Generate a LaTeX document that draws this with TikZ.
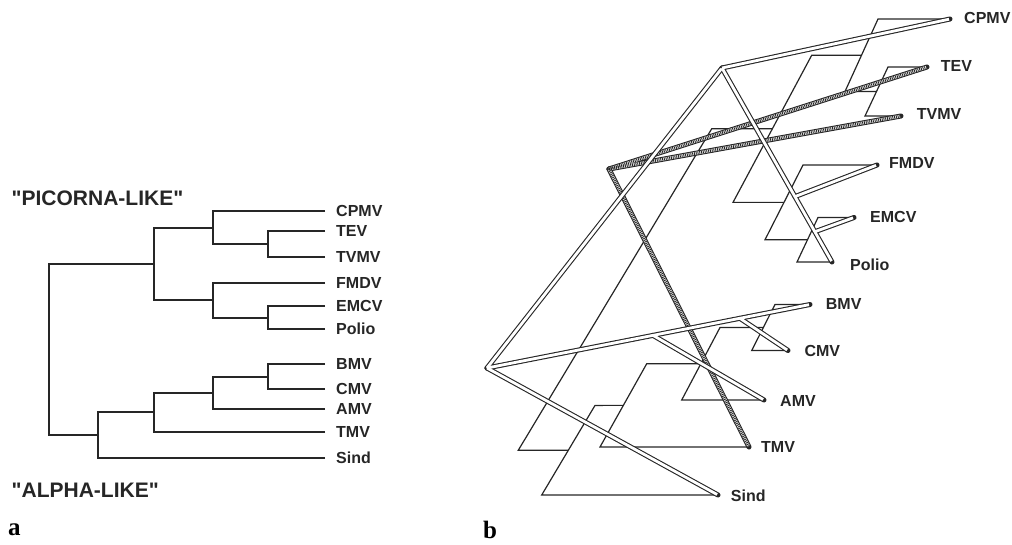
\documentclass[tikz,border=0pt]{standalone}
\usepackage{fontspec}
\setmainfont{Liberation Serif}
\newfontfamily\labfont{Liberation Sans}
\usetikzlibrary{calc}

\tikzset{
  den/.style={draw=black!85, line width=2pt, line join=miter},
  thin/.style={draw=black!85, line width=1.2pt, line join=miter},
  rodout/.style={draw=black!85, line width=5pt, line cap=round},
  rodin/.style={draw=white, line width=2.8pt, shorten >=1pt},
  hatchin/.style={draw=black!85, line width=2.8pt, shorten >=1pt,
    dash pattern=on 0.9pt off 0.9pt},
  lab/.style={font=\labfont\bfseries\fontsize{16}{16}\selectfont,
    inner sep=0pt, anchor=west, text=black!85},
  grp/.style={font=\labfont\bfseries\fontsize{21}{21}\selectfont,
    inner sep=0pt, anchor=west, text=black!85},
  panel/.style={font=\bfseries\fontsize{25}{25}\selectfont,
    inner sep=0pt, anchor=base west}
}

\begin{document}
\begin{tikzpicture}[x=1pt, y=-1pt]
\useasboundingbox (0,0) rectangle (1012,544);

% ---------------- panel a: rooted dendrogram ----------------
\coordinate (lCPMV)  at (325,211);
\coordinate (lTEV)   at (325,231);
\coordinate (lTVMV)  at (325,257);
\coordinate (lFMDV)  at (325,283);
\coordinate (lEMCV)  at (325,306);
\coordinate (lPolio) at (325,329);
\coordinate (lBMV)   at (325,364);
\coordinate (lCMV)   at (325,389);
\coordinate (lAMV)   at (325,409);
\coordinate (lTMV)   at (325,432);
\coordinate (lSind)  at (325,458);

\coordinate (lTT)   at (268,244);
\coordinate (lCT)   at (213,228);
\coordinate (lEP)   at (268,318);
\coordinate (lFE)   at (213,300);
\coordinate (lPic)  at (154,264);
\coordinate (lBC)   at (268,377);
\coordinate (lABC)  at (213,393);
\coordinate (lTA)   at (154,412);
\coordinate (lAlp)  at (98,435);
\coordinate (lRoot) at (49,350);

\foreach \c/\p in {lTEV/lTT, lTVMV/lTT, lCPMV/lCT, lTT/lCT,
                   lEMCV/lEP, lPolio/lEP, lFMDV/lFE, lEP/lFE,
                   lCT/lPic, lFE/lPic,
                   lBMV/lBC, lCMV/lBC, lBC/lABC, lAMV/lABC,
                   lABC/lTA, lTMV/lTA, lTA/lAlp, lSind/lAlp,
                   lPic/lRoot, lAlp/lRoot}
  \draw[den] (\c) -| (\p);

\node[lab] (aCPMV)  at (336,211) {CPMV};
\node[lab] (aTEV)   at (336,231) {TEV};
\node[lab] (aTVMV)  at (336,257) {TVMV};
\node[lab] (aFMDV)  at (336,283) {FMDV};
\node[lab] (aEMCV)  at (336,306) {EMCV};
\node[lab] (aPolio) at (336,329) {Polio};
\node[lab] (aBMV)   at (336,364) {BMV};
\node[lab] (aCMV)   at (336,389) {CMV};
\node[lab] (aAMV)   at (336,409) {AMV};
\node[lab] (aTMV)   at (336,432) {TMV};
\node[lab] (aSind)  at (336,458) {Sind};

\node[grp] (picorna) at (11.5,198.3) {"PICORNA-LIKE"};
\node[grp] (alpha)   at (11.5,490)   {"ALPHA-LIKE"};
\node[panel] (pa) at (8,535) {a};

% ---------------- panel b: tree in oblique view ----------------
% branch tips
\coordinate (rCPMV)  at (950,19);
\coordinate (rTEV)   at (927,67);
\coordinate (rTVMV)  at (901,116);
\coordinate (rFMDV)  at (877,165);
\coordinate (rEMCV)  at (854,217.5);
\coordinate (rPolio) at (832,262);
\coordinate (rBMV)   at (810,304.5);
\coordinate (rCMV)   at (788,350.5);
\coordinate (rAMV)   at (764,400);
\coordinate (rTMV)   at (749,447);
\coordinate (rSind)  at (718,495);

% sheared dendrogram bars (top end, bottom end) and their midpoints
\coordinate (tTTa)   at (888,67);     \coordinate (tTTb)   at (865,116);
\coordinate (tCTa)   at (878,19);     \coordinate (tCTb)   at (845,91.5);
\coordinate (tEPa)   at (818,217.5);  \coordinate (tEPb)   at (797,262);
\coordinate (tFEa)   at (803,165);    \coordinate (tFEb)   at (765,239.75);
\coordinate (tPica)  at (811.7,55.25);\coordinate (tPicb)  at (733,202.375);
\coordinate (tBCa)   at (775,304.5);  \coordinate (tBCb)   at (751.7,350.5);
\coordinate (tABCa)  at (720,327.5);  \coordinate (tABCb)  at (681.7,400);
\coordinate (tTAa)   at (646.7,363.75);\coordinate (tTAb)  at (600,447);
\coordinate (tAlpa)  at (595,405.4);  \coordinate (tAlpb)  at (541.7,495);
\coordinate (tRoota) at (711.7,128.8);\coordinate (tRootb) at (518.3,450.2);

\foreach \n in {TT,CT,EP,FE,Pic,BC,ABC,TA,Alp}
  \coordinate (m\n) at ($(t\n a)!0.5!(t\n b)$);

\draw[thin] (rTEV) -- (tTTa) -- (tTTb) -- (rTVMV);
\draw[thin] (rCPMV) -- (tCTa) -- (tCTb) -- (mTT);
\draw[thin] (rEMCV) -- (tEPa) -- (tEPb) -- (rPolio);
\draw[thin] (rFMDV) -- (tFEa) -- (tFEb) -- (mEP);
\draw[thin] (mCT) -- (tPica) -- (tPicb) -- (mFE);
\draw[thin] (rBMV) -- (tBCa) -- (tBCb) -- (rCMV);
\draw[thin] (mBC) -- (tABCa) -- (tABCb) -- (rAMV);
\draw[thin] (mABC) -- (tTAa) -- (tTAb) -- (rTMV);
\draw[thin] (mTA) -- (tAlpa) -- (tAlpb) -- (rSind);
\draw[thin] (mPic) -- (tRoota) -- (tRootb) -- (mAlp);

% rods
\coordinate (R) at (487,368);
\coordinate (P) at (722,68);
\coordinate (H) at (609,169);
\coordinate (F0) at ($(P)!0.663!(rPolio)$);
\coordinate (E0) at ($(P)!0.844!(rPolio)$);
\coordinate (B0) at ($(R)!0.783!(rBMV)$);
\coordinate (A0) at ($(R)!0.514!(rBMV)$);

% hatched rods
\foreach \a/\b in {H/rTEV, H/rTVMV, H/rTMV}
  \draw[rodout] (\a) -- (\b);
\foreach \a/\b in {H/rTEV, H/rTVMV, H/rTMV}
  \draw[rodin] (\a) -- (\b);
\foreach \a/\b in {H/rTEV, H/rTVMV, H/rTMV}
  \draw[hatchin] (\a) -- (\b);

% plain rods
\foreach \a/\b in {R/P, P/rCPMV, P/rPolio, F0/rFMDV, E0/rEMCV,
                   R/rBMV, B0/rCMV, A0/rAMV, R/rSind}
  \draw[rodout] (\a) -- (\b);
\foreach \a/\b in {R/P, P/rCPMV, P/rPolio, F0/rFMDV, E0/rEMCV,
                   R/rBMV, B0/rCMV, A0/rAMV, R/rSind}
  \draw[rodin] (\a) -- (\b);

\node[lab] (bCPMV)  at (964,18.3)   {CPMV};
\node[lab] (bTEV)   at (940.7,65.7) {TEV};
\node[lab] (bTVMV)  at (916.7,114.3){TVMV};
\node[lab] (bFMDV)  at (889,163.3)  {FMDV};
\node[lab] (bEMCV)  at (870,216.7)  {EMCV};
\node[lab] (bPolio) at (850,265)    {Polio};
\node[lab] (bBMV)   at (825.7,304)  {BMV};
\node[lab] (bCMV)   at (804.3,350.7){CMV};
\node[lab] (bAMV)   at (780,400.7)  {AMV};
\node[lab] (bTMV)   at (761,446.7)  {TMV};
\node[lab] (bSind)  at (730.7,495.7){Sind};

\node[panel] (pb) at (483,538.5) {b};
\end{tikzpicture}
\end{document}
